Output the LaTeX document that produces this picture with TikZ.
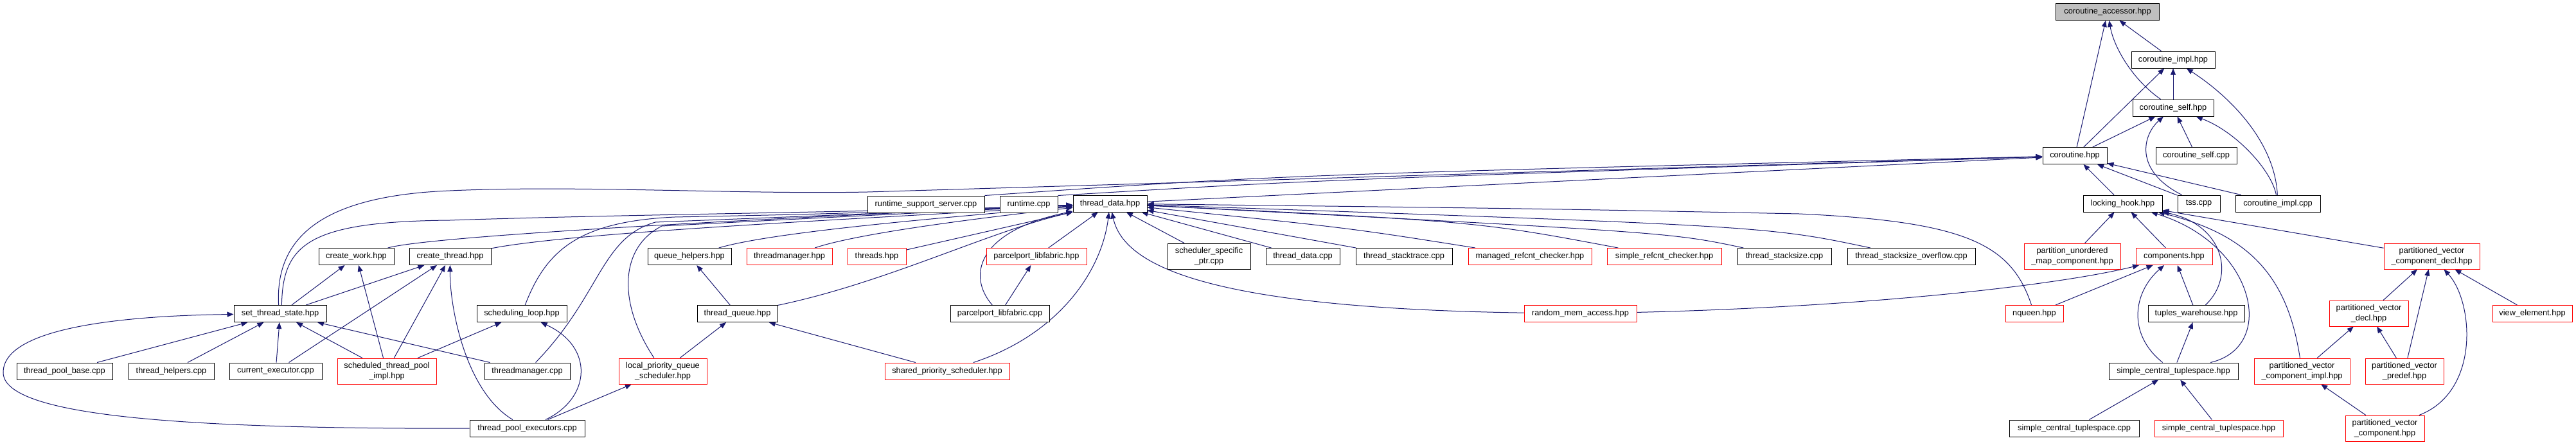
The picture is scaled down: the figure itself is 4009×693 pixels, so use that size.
\documentclass[tikz,border=0pt]{standalone}
\usepackage{fontspec}
\setmainfont{Liberation Sans}
\usetikzlibrary{arrows.meta,backgrounds}
\definecolor{edgecol}{HTML}{191970}
\definecolor{rootgray}{HTML}{BFBFBF}
\definecolor{linkred}{HTML}{FF0000}
\begin{document}
\begin{tikzpicture}[x=1pt,y=-1pt,
  file/.style={draw=black,fill=white,line width=1pt,minimum height=26pt,inner sep=0pt,
    font=\fontsize{12.8}{15.5}\selectfont,align=center},
  redfile/.style={file,draw=linkred},
  tall/.style={minimum height=40pt},
  dep/.style={draw=edgecol,line width=1pt,-{Triangle[length=10pt,width=8pt]}}]
\useasboundingbox (0,0) rectangle (4009,693);

\node[file,fill=rootgray,minimum width=161] (acc) at (3280,18.5) {coroutine\_accessor.hpp};
\node[file,minimum width=130] (cimpl) at (3382,93) {coroutine\_impl.hpp};
\node[file,minimum width=126] (cself) at (3382,168) {coroutine\_self.hpp};
\node[file,minimum width=100] (coro) at (3229,242.5) {coroutine.hpp};
\node[file,minimum width=126] (cselfcpp) at (3418,242.5) {coroutine\_self.cpp};

\node[file,minimum width=182] (rss) at (1441,318) {runtime\_support\_server.cpp};
\node[file,minimum width=90] (rt) at (1601,318) {runtime.cpp};
\node[file,minimum width=115] (td) at (1727.5,317) {thread\_data.hpp};
\node[file,minimum width=123] (lh) at (3303.5,317) {locking\_hook.hpp};
\node[file,minimum width=66] (tss) at (3422,317) {tss.cpp};
\node[file,minimum width=132] (cimplcpp) at (3545,317) {coroutine\_impl.cpp};

\node[file,minimum width=117] (cw) at (554.5,399.5) {create\_work.hpp};
\node[file,minimum width=127] (ct) at (700.5,399.5) {create\_thread.hpp};
\node[file,minimum width=130] (qh) at (1073,399.5) {queue\_helpers.hpp};
\node[redfile,minimum width=133] (tmh) at (1228.5,399.5) {threadmanager.hpp};
\node[redfile,minimum width=91] (ths) at (1364.5,399.5) {threads.hpp};
\node[redfile,minimum width=156] (plh) at (1613,399.5) {parcelport\_libfabric.hpp};
\node[file,tall,minimum width=129] (ssp) at (1881.5,399) {scheduler\_specific\\\_ptr.cpp};
\node[file,minimum width=115] (tdc) at (2027.5,399.5) {thread\_data.cpp};
\node[file,minimum width=150] (tst) at (2185,399.5) {thread\_stacktrace.cpp};
\node[redfile,minimum width=192] (mrc) at (2381,399.5) {managed\_refcnt\_checker.hpp};
\node[redfile,minimum width=178] (src) at (2590,399.5) {simple\_refcnt\_checker.hpp};
\node[file,minimum width=146] (tstack) at (2777,399.5) {thread\_stacksize.cpp};
\node[file,minimum width=199] (tstackov) at (2974.5,399.5) {thread\_stacksize\_overflow.cpp};
\node[redfile,tall,minimum width=150] (pum) at (3225,399) {partition\_unordered\\\_map\_component.hpp};
\node[redfile,minimum width=119] (comp) at (3383.5,399.5) {components.hpp};
\node[redfile,tall,minimum width=149] (pvcd) at (3784.5,399) {partitioned\_vector\\\_component\_decl.hpp};

\node[file,minimum width=144] (sts) at (436,488.5) {set\_thread\_state.hpp};
\node[file,minimum width=140] (sl) at (812,488.5) {scheduling\_loop.hpp};
\node[file,minimum width=125] (tq) at (1147.5,488.5) {thread\_queue.hpp};
\node[file,minimum width=154] (plc) at (1556,488.5) {parcelport\_libfabric.cpp};
\node[redfile,minimum width=175] (rma) at (2459.5,488.5) {random\_mem\_access.hpp};
\node[redfile,minimum width=90] (nq) at (3166,488.5) {nqueen.hpp};
\node[file,minimum width=150] (tw) at (3418,488.5) {tuples\_warehouse.hpp};
\node[redfile,tall,minimum width=123] (pvd) at (3686.5,488) {partitioned\_vector\\\_decl.hpp};
\node[redfile,minimum width=124] (ve) at (3941,488.5) {view\_element.hpp};

\node[file,minimum width=149] (tpb) at (100.5,578) {thread\_pool\_base.cpp};
\node[file,minimum width=133] (th) at (266.5,578) {thread\_helpers.cpp};
\node[file,minimum width=144] (ce) at (429,578) {current\_executor.cpp};
\node[redfile,tall,minimum width=154] (stp) at (602,578) {scheduled\_thread\_pool\\\_impl.hpp};
\node[file,minimum width=133] (tmc) at (820.5,578) {threadmanager.cpp};
\node[redfile,tall,minimum width=137] (lpq) at (1031.5,578) {local\_priority\_queue\\\_scheduler.hpp};
\node[redfile,minimum width=194] (sps) at (1474,578) {shared\_priority\_scheduler.hpp};
\node[file,minimum width=201] (sct) at (3382.5,578) {simple\_central\_tuplespace.hpp};
\node[redfile,tall,minimum width=149] (pvci) at (3582.5,578) {partitioned\_vector\\\_component\_impl.hpp};
\node[redfile,tall,minimum width=122] (pvp) at (3742,578) {partitioned\_vector\\\_predef.hpp};

\node[file,minimum width=179] (tpe) at (820.5,667) {thread\_pool\_executors.cpp};
\node[file,minimum width=202] (sctc) at (3228,667) {simple\_central\_tuplespace.cpp};
\node[redfile,minimum width=200] (scth) at (3453,667) {simple\_central\_tuplespace.hpp};
\node[redfile,tall,minimum width=123] (pvc) at (3711.5,667) {partitioned\_vector\\\_component.hpp};

\begin{scope}[on background layer]
\draw[dep] (coro) -- (acc);
\draw[dep] (cself) .. controls (3320,125) and (3290,75) .. (acc);
\draw[dep] (cimpl) -- (acc);
\draw[dep] (coro) -- (cimpl);
\draw[dep] (cself) -- (cimpl);
\draw[dep] (cimplcpp) .. controls (3540,220) and (3470,150) .. (cimpl);
\draw[dep] (coro) -- (cself);
\draw[dep] (tss) .. controls (3320,265) and (3335,210) .. (cself);
\draw[dep] (cselfcpp) -- (cself);
\draw[dep] (cimplcpp) .. controls (3535,265) and (3480,205) .. (cself);

\draw[dep] (sts.100) .. controls (428,370) and (500,305) .. (700,297) .. controls (900,288) and (1150,303) .. (1350,299) -- (coro);
\draw[dep] (rss.north east) .. controls (2000,272) .. (coro);
\draw[dep] (rt.north east) .. controls (2050,280) .. (coro);
\draw[dep] (td) -- (coro);
\draw[dep] (lh) -- (coro);
\draw[dep] (tss) -- (coro);
\draw[dep] (cimplcpp) -- (coro);

\draw[dep] (sts.80) .. controls (440,380) and (480,345) .. (700,343) .. controls (1000,333) and (1400,330) .. (td);
\draw[dep] (cw) .. controls (680,365) and (1300,335) .. (td);
\draw[dep] (ct) .. controls (900,360) and (1400,338) .. (td);
\draw[dep] (sl) .. controls (850,390) and (900,345) .. (1050,338) .. controls (1300,333) .. (td);
\draw[dep] (tmc) .. controls (935,460) and (935,370) .. (1020,346) .. controls (1300,335) .. (td);
\draw[dep] (lpq) .. controls (960,470) and (965,385) .. (1030,352) .. controls (1300,338) .. (td);
\draw[dep] (qh) .. controls (1200,362) and (1450,340) .. (td);
\draw[dep] (tmh) .. controls (1330,365) and (1500,342) .. (td);
\draw[dep] (ths) -- (td);
\draw[dep] (tq) .. controls (1380,440) and (1540,360) .. (td);
\draw[dep] (plc) .. controls (1505,430) and (1520,360) .. (td);
\draw[dep] (plh) -- (td);
\draw[dep] (sps) .. controls (1650,520) and (1715,420) .. (td);
\draw[dep] (ssp) -- (td);
\draw[dep] (tdc) -- (td);
\draw[dep] (tst) -- (td);
\draw[dep] (mrc) .. controls (2100,355) .. (td);
\draw[dep] (src) .. controls (2300,345) .. (td);
\draw[dep] (tstack) .. controls (2600,362) .. (td);
\draw[dep] (tstackov) .. controls (2750,352) .. (td);
\draw[dep] (nq) .. controls (3130,380) and (3060,345) .. (2800,333) .. controls (2400,325) .. (td);
\draw[dep] (rma) .. controls (1900,480) and (1750,420) .. (td);

\draw[dep] (pum) -- (lh);
\draw[dep] (comp) -- (lh);
\draw[dep] (pvcd) -- (lh);
\draw[dep] (tw) .. controls (3480,430) and (3460,350) .. (lh);
\draw[dep] (sct) .. controls (3545,540) and (3510,380) .. (lh);
\draw[dep] (pvci) .. controls (3560,430) and (3500,365) .. (lh);
\draw[dep] (rma) .. controls (2900,478) and (3200,445) .. (comp);
\draw[dep] (nq) -- (comp);
\draw[dep] (sct) .. controls (3310,520) and (3320,455) .. (comp);
\draw[dep] (tw) -- (comp);
\draw[dep] (sct) -- (tw);
\draw[dep] (sctc) -- (sct);
\draw[dep] (scth) -- (sct);
\draw[dep] (pvd) -- (pvcd);
\draw[dep] (pvp) -- (pvcd);
\draw[dep] (ve) -- (pvcd);
\draw[dep] (pvc) .. controls (3860,610) and (3850,470) .. (pvcd);
\draw[dep] (pvci) -- (pvd);
\draw[dep] (pvp) -- (pvd);
\draw[dep] (pvc) -- (pvci);

\draw[dep] (tpb) -- (sts);
\draw[dep] (th) -- (sts);
\draw[dep] (ce) -- (sts);
\draw[dep] (stp) -- (sts);
\draw[dep] (tmc) -- (sts);
\draw[dep] (tpe) .. controls (300,668) and (5,650) .. (5,580) .. controls (5,500) and (250,491) .. (sts);
\draw[dep] (sts) -- (cw);
\draw[dep] (stp) -- (cw);
\draw[dep] (sts) -- (ct);
\draw[dep] (ce) -- (ct);
\draw[dep] (stp) -- (ct);
\draw[dep] (tpe) .. controls (725,610) and (700,480) .. (ct);
\draw[dep] (stp) -- (sl);
\draw[dep] (tpe) .. controls (920,620) and (925,540) .. (sl);
\draw[dep] (tpe) -- (lpq);
\draw[dep] (lpq) -- (tq);
\draw[dep] (sps) -- (tq);
\draw[dep] (tq) -- (qh);
\draw[dep] (plc) -- (plh);
\end{scope}
\end{tikzpicture}
\end{document}
